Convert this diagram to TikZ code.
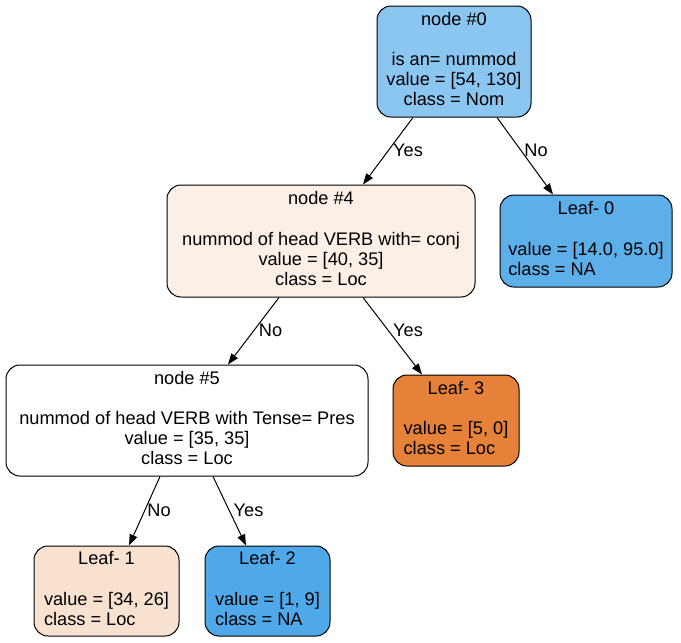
\documentclass[tikz,border=0pt]{standalone}
\usepackage{fontspec}
\setmainfont{Liberation Sans}
\usetikzlibrary{arrows.meta}
\definecolor{cnzero}{RGB}{139,198,240}
\definecolor{cnfour}{RGB}{252,239,230}
\definecolor{cnfive}{RGB}{255,255,255}
\definecolor{clzero}{RGB}{93,175,234}
\definecolor{clone}{RGB}{249,225,208}
\definecolor{cltwo}{RGB}{79,168,232}
\definecolor{clthree}{RGB}{229,129,57}
\newcommand\inntext[4]{\begin{tabular}{@{}c@{}}#1\\ \\ #2\\ #3\\ #4\end{tabular}}
\newcommand\leaftext[3]{\begin{tabular}{@{}l@{}}\multicolumn{1}{@{}c@{}}{#1}\\ \\ #2\\ #3\end{tabular}}
\begin{document}
\begin{tikzpicture}[x=1pt,y=-1pt,
  treebox/.style={draw=black, rounded corners=14pt, line width=1pt, inner sep=0pt,
    font=\fontsize{18.2}{20.2}\selectfont},
  treeedge/.style={-{Triangle[length=11pt,width=8pt]}, line width=1pt},
  edgelbl/.style={inner sep=0pt, font=\fontsize{18.2}{20.2}\selectfont}]
\useasboundingbox (0,0) rectangle (681,643);
\node[treebox, fill=cnzero, minimum width=154pt, minimum height=111pt] (n0) at (454,61.5)
  {\raisebox{-1.5pt}{\inntext{node \#0}{is an= nummod}{value = [54, 130]}{class = Nom}}};
\node[treebox, fill=cnfour, minimum width=308pt, minimum height=112pt] (n4) at (321,241)
  {\raisebox{-1.5pt}{\inntext{node \#4}{nummod of head VERB with= conj}{value = [40, 35]}{class = Loc}}};
\node[treebox, fill=clzero, minimum width=172pt, minimum height=92pt] (l0) at (586,241)
  {\raisebox{-1.5pt}{\leaftext{Leaf- 0}{value = [14.0, 95.0]}{class = NA}}};
\node[treebox, fill=cnfive, minimum width=362pt, minimum height=111pt] (n5) at (187,420.5)
  {\raisebox{-1.5pt}{\inntext{node \#5}{nummod of head VERB with Tense= Pres}{value = [35, 35]}{class = Loc}}};
\node[treebox, fill=clthree, minimum width=126pt, minimum height=91pt] (l3) at (456,420.5)
  {\raisebox{-1.5pt}{\leaftext{Leaf- 3}{value = [5, 0]}{class = Loc}}};
\node[treebox, fill=clone, minimum width=145pt, minimum height=90pt] (l1) at (106.5,591)
  {\raisebox{-1.5pt}{\leaftext{Leaf- 1}{value = [34, 26]}{class = Loc}}};
\node[treebox, fill=cltwo, minimum width=125pt, minimum height=90pt] (l2) at (267.5,591)
  {\raisebox{-1.5pt}{\leaftext{Leaf- 2}{value = [1, 9]}{class = NA}}};
\draw[treeedge] ([xshift=-41pt]n0.south) -- ([xshift=42pt]n4.north);
\draw[treeedge] ([xshift=43pt]n0.south) -- ([xshift=-33pt]l0.north);
\draw[treeedge] ([xshift=-42pt]n4.south) -- ([xshift=41pt]n5.north);
\draw[treeedge] ([xshift=42pt]n4.south) -- ([xshift=-34pt]l3.north);
\draw[treeedge] ([xshift=-27pt]n5.south) -- ([xshift=22.5pt]l1.north);
\draw[treeedge] ([xshift=26pt]n5.south) -- ([xshift=-21.5pt]l2.north);
\node[edgelbl] (y0) at (408,150) {Yes};
\node[edgelbl] (o0) at (536,150) {No};
\node[edgelbl] (o4) at (270.5,330) {No};
\node[edgelbl] (y4) at (408,330) {Yes};
\node[edgelbl] (o5) at (159,510) {No};
\node[edgelbl] (y5) at (248.5,510) {Yes};
\end{tikzpicture}
\end{document}
